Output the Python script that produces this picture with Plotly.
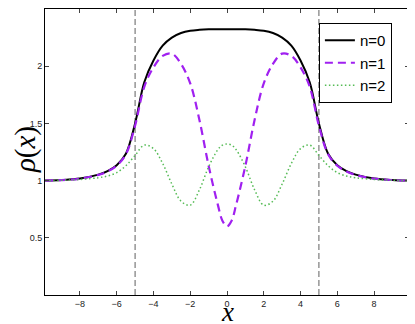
import plotly.graph_objects as go

# sample positions and densities for each mode
x_left = [-9.9, -9, -8, -7, -6.5, -6, -5.5, -5, -4.5, -4, -3.5, -3, -2.5, -2, -1.5, -1, -0.5, -0.25]
n0_left = [1.0, 1.005, 1.018, 1.052, 1.083, 1.135, 1.235, 1.5, 1.86, 2.05, 2.18, 2.25, 2.29, 2.31, 2.318, 2.322, 2.323, 2.323]
n1_left = [1.0, 1.005, 1.017, 1.05, 1.08, 1.13, 1.23, 1.48, 1.82, 1.99, 2.09, 2.11, 2.02, 1.85, 1.53, 1.13, 0.79, 0.65]
n2_left = [1.0, 1.003, 1.01, 1.025, 1.04, 1.07, 1.13, 1.22, 1.31, 1.28, 1.15, 0.97, 0.82, 0.785, 0.92, 1.12, 1.27, 1.31]
x_mid = 0.0
n0_mid, n1_mid, n2_mid = 2.323, 0.60, 1.32

x_vals = x_left + [x_mid] + [-v for v in reversed(x_left)]
n0 = n0_left + [n0_mid] + list(reversed(n0_left))
n1 = n1_left + [n1_mid] + list(reversed(n1_left))
n2 = n2_left + [n2_mid] + list(reversed(n2_left))

box_edges = [-5, 5]
x_ticks = [-8, -6, -4, -2, 0, 2, 4, 6, 8]
y_ticks = [0.5, 1, 1.5, 2]

fig = go.Figure()

for xb in box_edges:
    fig.add_trace(go.Scatter(
        x=[xb, xb], y=[0, 2.5], mode="lines", showlegend=False,
        line=dict(color="#606060", width=1, dash="6px,3px"), hoverinfo="skip",
    ))

fig.add_trace(go.Scatter(x=x_vals, y=n0, mode="lines", name="n=0",
                         line=dict(color="black", width=2, shape="spline")))
fig.add_trace(go.Scatter(x=x_vals, y=n1, mode="lines", name="n=1",
                         line=dict(color="#A020F0", width=2.2, dash="8px,5px", shape="spline")))
fig.add_trace(go.Scatter(x=x_vals, y=n2, mode="lines", name="n=2",
                         line=dict(color="#55bb55", width=1.5, dash="1.5px,2.5px", shape="spline")))

axis_common = dict(
    showgrid=False, zeroline=False, showline=True, linecolor="black", linewidth=1,
    mirror="ticks", ticks="inside", ticklen=4, tickcolor="#444", automargin=False,
    tickfont=dict(family="Liberation Sans, Arial", size=9, color="#222"),
)

fig.update_xaxes(range=[-9.9, 9.9], tickvals=x_ticks, **axis_common)
fig.update_yaxes(range=[0, 2.5], tickvals=y_ticks, **axis_common)

# axis labels
fig.add_annotation(text="<i>x</i>", xref="paper", yref="paper", x=0.5, y=-0.101,
                   xanchor="center", yanchor="bottom", yshift=-5, showarrow=False,
                   font=dict(family="Liberation Serif, serif", size=27, color="black"))
fig.add_annotation(text="<i>ρ</i>(<i>x</i>)", xref="paper", yref="paper", x=-0.055, y=0.51,
                   xanchor="center", yanchor="middle", showarrow=False, textangle=-90,
                   font=dict(family="Liberation Serif, serif", size=29, color="black"))

# page body adds an 8px offset, so the figure is 8px smaller with margins shifted
fig.update_layout(
    width=407, height=316,
    margin=dict(l=37, r=6, t=1, b=29),
    plot_bgcolor="white", paper_bgcolor="white",
    legend=dict(x=0.953, y=0.951, xanchor="right", yanchor="top",
                bordercolor="black", borderwidth=1, bgcolor="white",
                font=dict(family="Liberation Sans, Arial", size=15, color="black"),
                tracegroupgap=0, itemwidth=30),
)

fig.write_html("out.html")
